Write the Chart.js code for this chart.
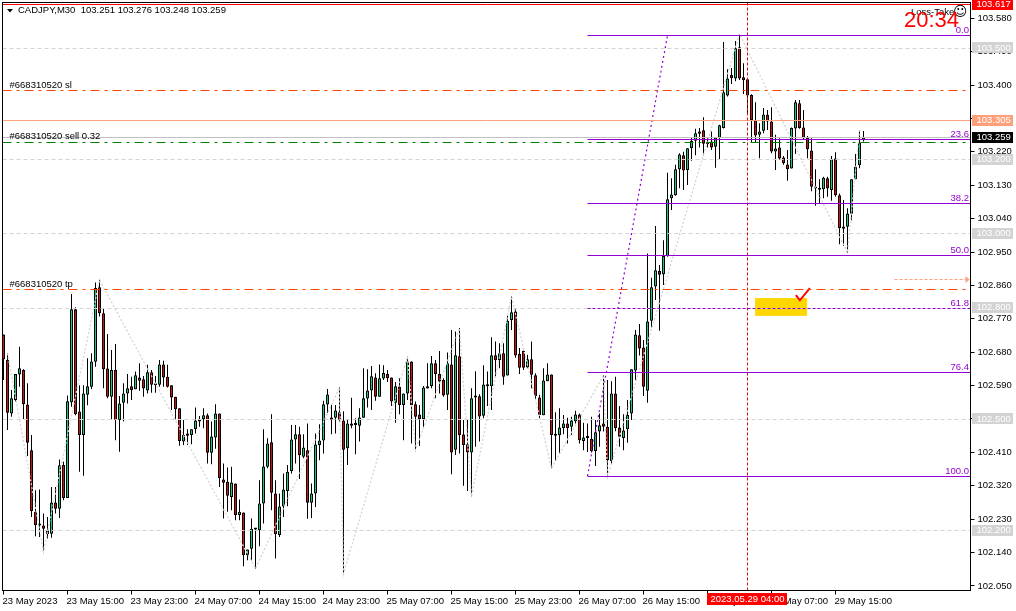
<!DOCTYPE html>
<html>
<head>
<meta charset="utf-8">
<title>CADJPY,M30</title>
<script src="https://cdn.jsdelivr.net/npm/chart.js@4/dist/chart.umd.min.js"></script>
<style>
  html,body{margin:0;padding:0;background:#fff;}
  canvas{display:block;}
</style>
</head>
<body>
<canvas id="chart" width="1016" height="611"></canvas>
<script>
// bars, oldest first (CADJPY M30)
const opens = [
102.728,102.659,102.515,102.551,102.620,102.632,102.539,102.416,102.250,102.218,
102.213,102.200,102.191,102.275,102.258,102.376,102.287,102.545,102.796,102.520,
102.457,102.565,102.587,102.654,102.855,102.785,102.636,102.560,102.632,102.497,
102.544,102.569,102.588,102.580,102.612,102.607,102.577,102.626,102.592,102.592,
102.647,102.614,102.591,102.560,102.529,102.439,102.461,102.457,102.472,102.493,
102.499,102.510,102.409,102.450,102.515,102.337,102.331,102.290,102.326,102.241,
102.248,102.133,102.150,102.204,102.200,102.272,102.371,102.437,102.299,102.187,
102.264,102.306,102.360,102.445,102.459,102.398,102.416,102.274,102.299,102.430,
102.442,102.539,102.504,102.503,102.518,102.496,102.421,102.488,102.485,102.482,
102.503,102.555,102.577,102.612,102.560,102.609,102.621,102.612,102.544,102.587,
102.538,102.569,102.655,102.540,102.512,102.500,102.582,102.589,102.650,102.621,
102.605,102.565,102.647,102.417,102.669,102.458,102.432,102.410,102.561,102.561,
102.509,102.593,102.588,102.672,102.659,102.677,102.617,102.767,102.790,102.675,
102.684,102.639,102.661,102.618,102.558,102.510,102.602,102.620,102.457,102.456,
102.476,102.488,102.479,102.494,102.512,102.441,102.452,102.447,102.414,102.466,
102.488,102.479,102.387,102.569,102.477,102.449,102.472,102.515,102.631,102.726,
102.693,102.576,102.765,102.857,102.899,102.890,102.939,103.095,103.103,103.173,
103.211,103.171,103.230,103.250,103.269,103.278,103.247,103.248,103.234,103.258,
103.284,103.372,103.427,103.418,103.502,103.421,103.416,103.373,103.305,103.266,
103.277,103.320,103.302,103.221,103.232,103.205,103.186,103.175,103.283,103.351,
103.286,103.258,103.224,103.124,103.121,103.119,103.149,103.117,103.202,103.103,
103.013,103.018,103.053,103.146,103.184,103.251];
const highs = [
102.728,102.677,102.578,102.621,102.695,102.634,102.596,102.457,102.308,102.310,
102.245,102.236,102.317,102.317,102.391,102.385,102.563,102.837,102.801,102.591,
102.591,102.664,102.677,102.868,102.875,102.799,102.729,102.686,102.702,102.562,
102.596,102.621,102.614,102.628,102.650,102.616,102.646,102.632,102.616,102.659,
102.657,102.646,102.591,102.560,102.529,102.497,102.472,102.472,102.531,102.508,
102.529,102.515,102.493,102.540,102.515,102.380,102.369,102.371,102.326,102.283,
102.248,102.148,102.232,102.204,102.335,102.472,102.448,102.513,102.335,102.299,
102.353,102.376,102.484,102.484,102.479,102.459,102.488,102.326,102.461,102.486,
102.549,102.581,102.538,102.538,102.585,102.521,102.497,102.557,102.502,102.529,
102.637,102.634,102.643,102.623,102.647,102.645,102.632,102.612,102.600,102.610,
102.569,102.668,102.655,102.547,102.538,102.589,102.650,102.670,102.659,102.683,
102.610,102.679,102.740,102.736,102.745,102.497,102.497,102.583,102.629,102.567,
102.645,102.628,102.720,102.709,102.704,102.704,102.778,102.830,102.796,102.691,
102.684,102.673,102.709,102.623,102.565,102.637,102.650,102.620,102.518,102.529,
102.511,102.503,102.506,102.522,102.515,102.490,102.488,102.506,102.497,102.515,
102.618,102.605,102.602,102.614,102.535,102.513,102.551,102.634,102.740,102.756,
102.713,102.946,102.881,103.020,102.915,102.982,103.164,103.149,103.185,103.216,
103.220,103.230,103.259,103.282,103.284,103.313,103.259,103.275,103.259,103.293,
103.516,103.443,103.446,103.519,103.538,103.459,103.416,103.375,103.354,103.297,
103.338,103.333,103.340,103.266,103.257,103.209,103.225,103.286,103.360,103.360,
103.333,103.263,103.257,103.173,103.146,103.153,103.153,103.209,103.219,103.108,
103.090,103.068,103.146,103.214,103.279,103.276];
const lows = [
102.605,102.470,102.506,102.547,102.587,102.500,102.400,102.236,102.184,102.182,
102.142,102.178,102.180,102.245,102.233,102.281,102.287,102.533,102.510,102.358,
102.347,102.537,102.581,102.641,102.776,102.583,102.556,102.499,102.443,102.412,
102.493,102.542,102.551,102.580,102.576,102.560,102.569,102.571,102.571,102.587,
102.587,102.585,102.524,102.499,102.428,102.430,102.430,102.432,102.461,102.479,
102.475,102.380,102.378,102.420,102.317,102.232,102.250,102.254,102.227,102.227,
102.103,102.119,102.119,102.097,102.157,102.218,102.367,102.254,102.124,102.182,
102.236,102.265,102.353,102.380,102.338,102.394,102.231,102.233,102.263,102.389,
102.407,102.517,102.459,102.461,102.493,102.083,102.376,102.475,102.405,102.439,
102.503,102.531,102.524,102.549,102.560,102.605,102.600,102.535,102.490,102.513,
102.443,102.551,102.434,102.416,102.427,102.479,102.582,102.583,102.556,102.569,
102.560,102.524,102.351,102.403,102.407,102.320,102.306,102.292,102.425,102.439,
102.502,102.535,102.524,102.614,102.637,102.592,102.617,102.740,102.665,102.621,
102.632,102.637,102.583,102.553,102.502,102.510,102.602,102.367,102.387,102.407,
102.459,102.434,102.457,102.488,102.434,102.416,102.411,102.410,102.373,102.425,
102.466,102.344,102.380,102.467,102.425,102.416,102.436,102.497,102.605,102.671,
102.562,102.544,102.747,102.821,102.738,102.861,102.937,103.063,103.102,103.122,
103.117,103.131,103.196,103.211,103.232,103.211,103.232,103.225,103.177,103.200,
103.283,103.369,103.403,103.410,103.414,103.376,103.324,103.245,103.245,103.203,
103.270,103.279,103.216,103.171,103.198,103.185,103.142,103.175,103.214,103.282,
103.252,103.203,103.114,103.075,103.081,103.095,103.099,103.088,103.099,102.971,
102.966,102.948,103.036,103.146,103.176,103.248];
const closes = [
102.661,102.517,102.556,102.621,102.637,102.540,102.436,102.252,102.214,102.213,
102.204,102.189,102.275,102.258,102.375,102.287,102.548,102.796,102.513,102.457,
102.569,102.588,102.655,102.853,102.785,102.634,102.560,102.632,102.497,102.542,
102.569,102.583,102.578,102.618,102.603,102.582,102.626,102.592,102.591,102.647,
102.612,102.587,102.558,102.526,102.441,102.457,102.455,102.472,102.496,102.499,
102.510,102.409,102.453,102.515,102.341,102.328,102.293,102.329,102.241,102.250,
102.133,102.148,102.204,102.202,102.272,102.372,102.434,102.301,102.189,102.264,
102.310,102.358,102.445,102.459,102.402,102.423,102.274,102.299,102.431,102.442,
102.540,102.566,102.498,102.523,102.497,102.417,102.488,102.482,102.484,102.504,
102.556,102.577,102.615,102.560,102.610,102.624,102.610,102.547,102.588,102.538,
102.569,102.655,102.537,102.506,102.500,102.585,102.588,102.650,102.621,102.601,
102.563,102.650,102.410,102.672,102.456,102.430,102.410,102.556,102.558,102.507,
102.593,102.588,102.672,102.658,102.677,102.614,102.765,102.788,102.671,102.638,
102.638,102.661,102.619,102.562,102.511,102.604,102.620,102.457,102.455,102.477,
102.488,102.476,102.496,102.512,102.443,102.450,102.449,102.414,102.464,102.483,
102.479,102.389,102.569,102.476,102.452,102.469,102.511,102.634,102.728,102.690,
102.587,102.763,102.855,102.901,102.889,102.939,103.092,103.105,103.173,103.213,
103.170,103.230,103.249,103.270,103.275,103.242,103.241,103.232,103.259,103.292,
103.381,103.418,103.419,103.499,103.418,103.413,103.372,103.305,103.264,103.275,
103.321,103.302,103.221,103.229,103.202,103.189,103.173,103.284,103.354,103.284,
103.257,103.227,103.126,103.121,103.118,103.150,103.121,103.200,103.103,103.014,
103.019,103.054,103.146,103.180,103.245,103.259];

// grey zigzag swings
const zigzagBars = [1,10,24,63,84,85,101,103,114,117,127,137,150,151,184,211,214];
const zigzagPrices = [102.677,102.142,102.875,102.097,102.585,102.083,102.668,102.416,102.745,102.292,102.830,102.367,102.618,102.344,103.538,102.948,103.279];

// axes
const yTicks = [103.58,103.49,103.40,103.31,103.22,103.13,103.04,102.95,102.86,102.77,102.68,102.59,102.50,102.41,102.32,102.23,102.14,102.05];
const xTickBars = [0,16,32,48,64,80,96,112,128,144,160,176,192,208];
const xTickLabels = ['23 May 2023','23 May 15:00','23 May 23:00','24 May 07:00','24 May 15:00','24 May 23:00','25 May 07:00','25 May 15:00','25 May 23:00','26 May 07:00','26 May 15:00','26 May 23:00','29 May 07:00','29 May 15:00'];

// price levels
const greyLevels = [103.5,103.2,103.0,102.8,102.5,102.2];
const redLevel = 103.618, slLevel = 103.386, askLevel = 103.305, bidLevel = 103.259, sellLevel = 103.247, tpLevel = 102.85;

// fibo
const fibStartBar = 146, fibEndBar = 166;
const fibPrices = [103.534,103.254,103.081,102.942,102.800,102.626,102.346];
const fibNames = ['0.0','23.6','38.2','50.0','61.8','76.4','100.0'];

// objects
const crossBar = 186;
const boxBars = [187.9,200.9], boxPrices = [102.826,102.778];
const checkBars = [198.1,199.1,201.6], checkPrices = [102.834,102.820,102.853];
const arrowBars = [222.75,241.5], arrowPrice = 102.877;

const FONT = '"Liberation Sans", Arial, sans-serif';
const SMALL = '9.5px ' + FONT;
const UP = '#14cc7f', DOWN = '#d01010', PURPLE = '#9400d3', ORANGE = '#ff4500', GREY = '#d3d3d3', SALMON = '#ffa07a';

function crisp(v){ return Math.round(v - 0.1) + 0.5; }

const objectsPlugin = {
  id:'objects',
  beforeDatasetsDraw(chart){
    const {ctx, scales:{x,y}} = chart;
    ctx.save();
    ctx.fillStyle = '#ffd700';
    const bx = x.getPixelForValue(boxBars[0]), by = y.getPixelForValue(boxPrices[0]);
    ctx.fillRect(bx, by, x.getPixelForValue(boxBars[1]) - bx, y.getPixelForValue(boxPrices[1]) - by);
    ctx.restore();
  },
  afterDatasetsDraw(chart){
    const {ctx, chartArea:a, scales:{x,y}} = chart;
    function hline(p, color, dash, from){
      const py = crisp(y.getPixelForValue(p));
      ctx.strokeStyle = color; ctx.lineWidth = 1; ctx.setLineDash(dash||[]);
      ctx.beginPath(); ctx.moveTo(from===undefined ? a.left : from, py); ctx.lineTo(a.right, py); ctx.stroke();
    }
    ctx.save();
    greyLevels.forEach(p=>hline(p, GREY, [4,3]));
    hline(redLevel, '#ff0000');
    hline(slLevel, ORANGE, [9,5,3,5]);
    hline(askLevel, SALMON);
    hline(bidLevel, '#c0c0c0');
    hline(sellLevel, '#008000', [9,5,3,5]);
    hline(tpLevel, ORANGE, [9,5,3,5]);

    // vertical cross line
    const cx = crisp(x.getPixelForValue(crossBar));
    ctx.strokeStyle = '#d01010'; ctx.setLineDash([3,2]);
    ctx.beginPath(); ctx.moveTo(cx, a.top); ctx.lineTo(cx, a.bottom); ctx.stroke();

    // fibo levels
    const fx = x.getPixelForValue(fibStartBar);
    fibPrices.forEach((p,i)=>hline(p, PURPLE, i===4 ? [3,2] : [], fx));
    ctx.setLineDash([]);
    ctx.font = SMALL; ctx.textBaseline = 'alphabetic'; ctx.textAlign = 'right'; ctx.fillStyle = PURPLE;
    fibPrices.forEach((p,i)=>ctx.fillText(fibNames[i], a.right - 1.5, crisp(y.getPixelForValue(p)) - 3));

    // arrow
    const ay = crisp(y.getPixelForValue(arrowPrice));
    const ax0 = x.getPixelForValue(arrowBars[0]), ax1 = x.getPixelForValue(arrowBars[1]);
    ctx.strokeStyle = SALMON; ctx.setLineDash([3,2]);
    ctx.beginPath(); ctx.moveTo(ax0, ay); ctx.lineTo(ax1 - 4, ay); ctx.stroke();
    ctx.setLineDash([]);
    ctx.fillStyle = SALMON;
    ctx.beginPath(); ctx.moveTo(ax1 - 4, ay - 3.5); ctx.lineTo(ax1, ay); ctx.lineTo(ax1 - 4, ay + 3.5); ctx.closePath(); ctx.fill();

    // text on the chart
    ctx.textAlign = 'left'; ctx.textBaseline = 'middle'; ctx.fillStyle = '#000'; ctx.font = SMALL;
    ctx.fillText('#668310520 sl', 9.5, 85);
    ctx.fillText('#668310520 sell 0.32', 9.5, 136.5);
    ctx.fillText('#668310520 tp', 9.5, 284);
    ctx.fillText('CADJPY,M30  103.251 103.276 103.248 103.259', 18, 10.5);
    ctx.beginPath(); ctx.moveTo(7, 9); ctx.lineTo(13, 9); ctx.lineTo(10, 12.5); ctx.closePath(); ctx.fill();
    ctx.fillText('Loss-Take', 911, 12);
    ctx.font = '14px "DejaVu Sans"';
    ctx.fillText('☺', 953, 12);
    ctx.fillStyle = '#ff0000'; ctx.font = '22px ' + FONT;
    ctx.fillText('20:34', 904, 21);
    ctx.restore();
  },
  afterDraw(chart){
    const {ctx, chartArea:a, scales:{x,y}} = chart;
    function tag(p, text, bg, fg, h){
      const py = y.getPixelForValue(p);
      const top = Math.max(0, Math.round(py - h/2));
      ctx.fillStyle = bg;
      ctx.fillRect(972, top, 41, Math.round(py + h/2) - top);
      ctx.fillStyle = fg;
      ctx.fillText(text, 976.5, Math.max(4, py));
    }
    ctx.save();
    ctx.strokeStyle = '#000'; ctx.lineWidth = 1;
    ctx.strokeRect(a.left, a.top, a.right - a.left, a.bottom - a.top);
    ctx.font = SMALL; ctx.textAlign = 'left'; ctx.textBaseline = 'middle';
    greyLevels.forEach(p=>tag(p, p.toFixed(3), GREY, '#fff', 11));
    tag(askLevel, askLevel.toFixed(3), SALMON, '#fff', 11);
    tag(bidLevel, bidLevel.toFixed(3), '#000', '#fff', 11);
    tag(redLevel, '103.617', '#ff0000', '#fff', 11);

    // time of the cross line
    const cx = x.getPixelForValue(crossBar);
    ctx.fillStyle = '#ff0000';
    ctx.fillRect(cx - 40.5, 593, 80, 12);
    ctx.fillStyle = '#fff'; ctx.textAlign = 'center';
    ctx.fillText('2023.05.29 04:00', cx, 599.5);
    ctx.restore();
  }
};

new Chart(document.getElementById('chart'), {
  type:'bar',
  data:{
    datasets:[
      { type:'bar', label:'range', order:3, grouped:false, barThickness:1, inflateAmount:0,
        data:highs.map((h,i)=>({x:i, y:[lows[i],h]})), backgroundColor:'#000', borderWidth:0 },
      { type:'bar', label:'body', order:2, grouped:false, barThickness:3, inflateAmount:0, borderSkipped:false, minBarLength:2,
        data:opens.map((o,i)=>({x:i, y:[o,closes[i]]})),
        backgroundColor:opens.map((o,i)=>closes[i]>=o ? UP : DOWN), borderColor:'#000', borderWidth:1 },
      { type:'line', label:'zigzag', order:1, data:zigzagBars.map((b,i)=>({x:b, y:zigzagPrices[i]})),
        borderColor:GREY, borderWidth:1.3, borderDash:[2,2], pointRadius:0, tension:0 },
      { type:'line', label:'fibo', order:1, data:[{x:fibStartBar, y:fibPrices[6]},{x:fibEndBar, y:fibPrices[0]}],
        borderColor:PURPLE, borderWidth:1.2, borderDash:[2,3], pointRadius:0, tension:0 },
      { type:'line', label:'check', order:0, data:checkBars.map((b,i)=>({x:b, y:checkPrices[i]})),
        borderColor:'#ff0000', borderWidth:2, pointRadius:0, tension:0 }
    ]
  },
  options:{
    responsive:false, animation:false, devicePixelRatio:1,
    layout:{padding:{left:2.5, top:2.5, right:0, bottom:0}},
    plugins:{legend:{display:false}, tooltip:{enabled:false}},
    scales:{
      x:{
        type:'linear', offset:false, min:-0.25, max:241.75,
        grid:{offset:false, drawOnChartArea:false, tickLength:4, color:'#000'},
        border:{color:'#000'},
        afterBuildTicks(s){ s.ticks = xTickBars.map(v=>({value:v})); },
        afterFit(s){ s.height = 20.5; s.paddingLeft = 0; s.paddingRight = 0; },
        ticks:{autoSkip:false, maxRotation:0, minRotation:0, align:'start', labelOffset:-1, padding:1, color:'#000',
          font:{family:FONT, size:9.5}, callback:v=>xTickLabels[xTickBars.indexOf(v)]}
      },
      y:{
        position:'right', min:102.0377, max:103.6226,
        grid:{drawOnChartArea:false, tickLength:4, color:'#000'},
        border:{color:'#000'},
        afterBuildTicks(s){ s.ticks = yTicks.map(v=>({value:v})); },
        afterFit(s){ s.width = 45.5; s.paddingTop = 0; s.paddingBottom = 0; },
        ticks:{autoSkip:false, padding:3, color:'#000', font:{family:FONT, size:9.5}, callback:v=>v.toFixed(3)}
      }
    }
  },
  plugins:[objectsPlugin]
});
</script>
</body>
</html>
